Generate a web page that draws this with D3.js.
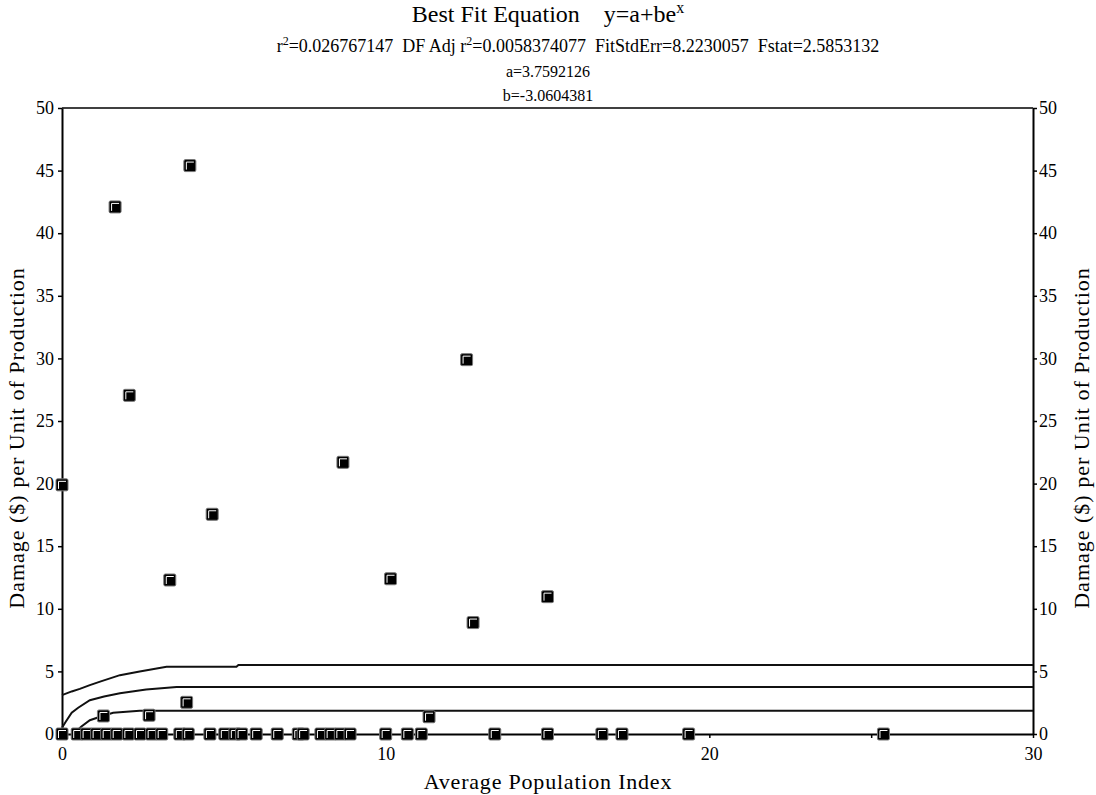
<!DOCTYPE html>
<html>
<head>
<meta charset="utf-8">
<script src="https://cdn.jsdelivr.net/npm/d3@7"></script>
<style>
  body { margin: 0; background: #fff; }
  svg text { font-family: "Liberation Serif", "Times New Roman", serif; fill: #000; white-space: pre; }
</style>
</head>
<body>
<svg id="chart" width="1096" height="795"></svg>
<script>
// scatter points (x = Average Population Index, y = damage)
const ptX = [0, 1.64, 3.95, 2.08, 8.68, 4.64, 3.33, 10.15, 12.5, 15.0, 12.7, 1.28, 2.69, 3.85, 11.34];
const ptY = [19.9, 42.1, 45.4, 27.05, 21.7, 17.55, 12.3, 12.4, 29.9, 10.97, 8.9, 1.44, 1.5, 2.53, 1.38];

// points sitting on zero
const zeroX = [0, 0.47, 0.76, 1.07, 1.38, 1.69, 2.05, 2.41, 2.77, 3.08, 3.64, 3.9, 4.57, 5.03, 5.34, 5.55,
               6.0, 6.65, 7.3, 7.45, 8.0, 8.3, 8.6, 8.9, 10.0, 10.67, 11.1, 13.37, 15.0, 16.68, 17.3, 19.36, 25.38];

// fit curve and the two bands
const upperX = [0, 0.3, 0.55, 0.86, 1.2, 1.79, 2.4, 3.23, 5.39, 5.45, 30];
const upperY = [3.1, 3.4, 3.6, 3.9, 4.2, 4.7, 5.0, 5.38, 5.38, 5.52, 5.52];
const fitX = [0, 0.12, 0.3, 0.5, 0.86, 1.3, 1.79, 2.6, 3.54, 30];
const fitY = [0.5, 1.0, 1.7, 2.1, 2.7, 3.0, 3.25, 3.55, 3.76, 3.76];
const lowerX = [0.35, 0.6, 0.86, 1.2, 1.58, 2.4, 30];
const lowerY = [0, 0.6, 1.1, 1.4, 1.7, 1.85, 1.85];

const yTicks = d3.range(0, 51, 5);
const xTicks = d3.range(0, 31, 5);

const svg = d3.select("#chart");
const x = d3.scaleLinear().domain([0, 30]).range([62, 1033]);
const y = d3.scaleLinear().domain([0, 50]).range([734, 108]);

// titles
const title = svg.append("text").attr("x", 548).attr("y", 22)
    .attr("text-anchor", "middle").attr("font-size", 24);
title.append("tspan").text("Best Fit Equation    y=a+be");
title.append("tspan").attr("dy", -9).attr("font-size", 16).text("x");

const stats = svg.append("text").attr("x", 578).attr("y", 52)
    .attr("text-anchor", "middle").attr("font-size", 18);
stats.append("tspan").text("r");
stats.append("tspan").attr("dy", -7).attr("font-size", 12).text("2");
stats.append("tspan").attr("dy", 7).text("=0.026767147  DF Adj r");
stats.append("tspan").attr("dy", -7).attr("font-size", 12).text("2");
stats.append("tspan").attr("dy", 7).text("=0.0058374077  FitStdErr=8.2230057  Fstat=2.5853132");

svg.append("text").attr("x", 548).attr("y", 77).attr("text-anchor", "middle")
    .attr("font-size", 16).text("a=3.7592126");
svg.append("text").attr("x", 548).attr("y", 101).attr("text-anchor", "middle")
    .attr("font-size", 16).text("b=-3.0604381");

// frame top
svg.append("line").attr("x1", x(0)).attr("x2", x(30)).attr("y1", y(50)).attr("y2", y(50))
    .attr("stroke", "#000").attr("stroke-width", 1.5);

function styleAxis(g) {
  g.attr("font-family", "Liberation Serif, Times New Roman, serif").attr("font-size", 18);
  g.select(".domain").attr("stroke", "#000").attr("stroke-width", 2);
  g.selectAll(".tick line").attr("stroke", "#000").attr("stroke-width", 1.5);
  g.selectAll(".tick text")
    .style("font-family", "'Liberation Serif', 'Times New Roman', serif")
    .style("font-size", "18px").attr("fill", "#000");
}

svg.append("g").attr("transform", `translate(${x(0)},0)`)
  .call(d3.axisLeft(y).tickValues(yTicks).tickSize(4).tickPadding(4).tickSizeOuter(0))
  .call(styleAxis);

svg.append("g").attr("transform", `translate(${x(30)},0)`)
  .call(d3.axisRight(y).tickValues(yTicks).tickSize(4).tickPadding(2).tickSizeOuter(0))
  .call(styleAxis);

// fit curves
const curves = [[upperX, upperY], [fitX, fitY], [lowerX, lowerY]];
const line = d3.line().x(d => x(d[0])).y(d => y(d[1]));
svg.append("g").selectAll("path")
  .data(curves.map(c => c[0].map((v, i) => [v, c[1][i]])))
  .join("path")
    .attr("d", line)
    .attr("fill", "none")
    .attr("stroke", "#111")
    .attr("stroke-width", 2);

svg.append("g").attr("transform", `translate(0,${y(0)})`)
  .call(d3.axisBottom(x).tickValues(xTicks).tickSize(4).tickPadding(9).tickSizeOuter(0)
    .tickFormat(d => d % 10 === 0 ? d : ""))
  .call(styleAxis);

// markers
const pts = ptX.map((v, i) => ({x: v, y: ptY[i]}))
  .concat(zeroX.map(v => ({x: v, y: 0})));
const s = 12;
const mk = svg.append("g").selectAll("g")
  .data(pts)
  .join("g")
    .attr("transform", d => `translate(${x(d.x)},${y(d.y)})`);
mk.append("rect")
  .attr("x", -s / 2).attr("y", -s / 2)
  .attr("width", s).attr("height", s)
  .attr("rx", 1.5)
  .attr("fill", "#000")
  .attr("stroke", "#777")
  .attr("stroke-width", 1);
mk.append("path")
  .attr("d", `M${-s / 2 + 2.5},${s / 2 - 2} V${-s / 2 + 2.5} H${s / 2 - 2}`)
  .attr("fill", "none")
  .attr("stroke", "#fff")
  .attr("stroke-width", 1);

// axis titles
svg.append("text").attr("x", 548).attr("y", 789).attr("text-anchor", "middle")
  .attr("font-size", 22).attr("letter-spacing", 0.8).text("Average Population Index");
svg.append("text").attr("transform", "translate(24,438) rotate(-90)")
  .attr("text-anchor", "middle").attr("font-size", 22).attr("letter-spacing", 1)
  .text("Damage ($) per Unit of Production");
svg.append("text").attr("transform", "translate(1089,438) rotate(-90)")
  .attr("text-anchor", "middle").attr("font-size", 22).attr("letter-spacing", 1)
  .text("Damage ($) per Unit of Production");
</script>
</body>
</html>
